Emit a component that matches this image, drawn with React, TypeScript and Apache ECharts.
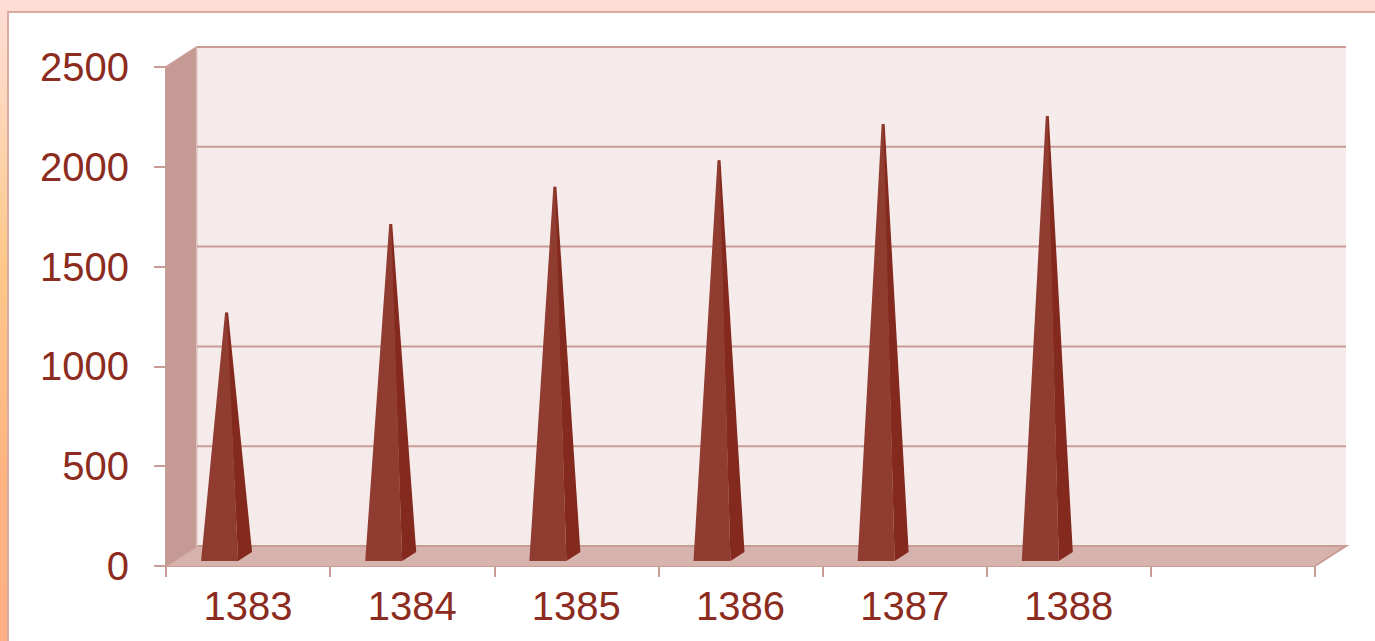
import React, { useEffect, useRef } from "react";
import * as echarts from "echarts";

const categories = ["1383", "1384", "1385", "1386", "1387", "1388", ""];
const values = [1245, 1688, 1875, 2008, 2190, 2230];
const gridValues = [500, 1000, 1500, 2000, 2500];

const DEPTH_X = 31;
const DEPTH_Y = 20;
const TEXT = "#8c2b20";
const LINE = "#c99c95";

function wallsItem(params: any, api: any) {
  const c = params.coordSys;
  const x0 = c.x, x1 = c.x + c.width, yT = c.y, yB = c.y + c.height;
  const line = { stroke: LINE, lineWidth: 2 };
  const shape = (points: number[][]) => ({ points });
  return {
    type: "group",
    children: [
      { type: "polygon", shape: shape([[x0 + DEPTH_X, yT - DEPTH_Y], [x1 + DEPTH_X, yT - DEPTH_Y], [x1 + DEPTH_X, yB - DEPTH_Y], [x0 + DEPTH_X, yB - DEPTH_Y]]), style: { fill: "#f5ebea" } },
      { type: "polygon", shape: shape([[x0, yB], [x0, yT], [x0 + DEPTH_X, yT - DEPTH_Y], [x0 + DEPTH_X, yB - DEPTH_Y]]), style: { fill: "#c69a94" } },
      { type: "polygon", shape: shape([[x0, yB], [x0 + DEPTH_X, yB - DEPTH_Y], [x1 + DEPTH_X, yB - DEPTH_Y], [x1, yB]]), style: { fill: "#d7b3ad" } },
      { type: "polyline", shape: shape([[x0, yT], [x0 + DEPTH_X, yT - DEPTH_Y], [x1 + DEPTH_X, yT - DEPTH_Y]]), style: { ...line, fill: "none" } },
      { type: "polyline", shape: shape([[x0, yB], [x0 + DEPTH_X, yB - DEPTH_Y], [x1 + DEPTH_X, yB - DEPTH_Y], [x1, yB]]), style: { ...line, fill: "none" } },
      { type: "line", shape: { x1: x0 + DEPTH_X, y1: yT - DEPTH_Y, x2: x0 + DEPTH_X, y2: yB - DEPTH_Y }, style: { stroke: "#e3cdc9", lineWidth: 1.5 } },
    ],
  };
}

function gridItem(params: any, api: any) {
  const c = params.coordSys;
  const y = api.coord([0, api.value(0)])[1] - DEPTH_Y;
  return {
    type: "line",
    shape: { x1: c.x + DEPTH_X, y1: y, x2: c.x + c.width + DEPTH_X, y2: y },
    style: { stroke: LINE, lineWidth: 2 },
  };
}

function pyramidItem(params: any, api: any) {
  const [cx, yBase] = api.coord([api.value(0), 0]);
  const apexY = api.coord([api.value(0), api.value(1)])[1] - 5;
  const apexX = cx - 22;
  const frontY = yBase - 5;
  const backY = yBase - 14;
  return {
    type: "group",
    children: [
      {
        type: "polygon",
        shape: { points: [[cx - 10, frontY], [cx + 4, backY], [apexX + 2, apexY], [apexX, apexY]] },
        style: { fill: "#84291d" },
      },
      {
        type: "polygon",
        shape: { points: [[cx - 47, frontY], [cx - 10, frontY], [apexX + 1, apexY], [apexX - 1, apexY]] },
        style: { fill: "#903c31" },
      },
    ],
  };
}

export default function App() {
  const ref = useRef<HTMLDivElement>(null);
  useEffect(() => {
    const chart = echarts.init(ref.current!, null, { renderer: "svg" });
    chart.setOption({
      animation: false,
      grid: { left: 166, right: 60, top: 67, bottom: 75, containLabel: false },
      tooltip: { show: false },
      xAxis: {
        type: "category",
        data: categories,
        boundaryGap: true,
        axisLine: { show: true, lineStyle: { color: LINE, width: 2 } },
        axisTick: { show: true, length: 11, alignWithLabel: false, lineStyle: { color: LINE, width: 2 } },
        axisLabel: { color: TEXT, fontFamily: "Liberation Sans", fontSize: 40, margin: 20, interval: 0 },
      },
      yAxis: {
        type: "value",
        min: 0,
        max: 2500,
        interval: 500,
        splitLine: { show: false },
        axisLine: { show: true, lineStyle: { color: LINE, width: 2 } },
        axisTick: { show: true, length: 12, lineStyle: { color: LINE, width: 2 } },
        axisLabel: { color: TEXT, fontFamily: "Liberation Sans", fontSize: 40, margin: 37, formatter: (v: number) => String(v) },
      },
      series: [
        { type: "custom", z: 1, clip: false, silent: true, data: [[0]], renderItem: wallsItem },
        { type: "custom", z: 2, clip: false, silent: true, data: gridValues.map((v) => [v]), encode: { y: 0 }, renderItem: gridItem },
        { type: "custom", z: 3, clip: false, silent: true, data: values.map((v, i) => [i, v]), encode: { x: 0, y: 1 }, renderItem: pyramidItem },
      ],
    });
    return () => chart.dispose();
  }, []);
  return (
    <div style={{ position: "absolute", left: 0, top: 0, width: 1375, height: 641, overflow: "hidden", background: "linear-gradient(180deg, #fddcd3 0%, #fdd9c4 12%, #fec98a 40%, #feb381 75%, #ffb085 100%)" }}>
      <div style={{ position: "absolute", left: 0, top: 0, width: 1375, height: 11, background: "#fddcd3" }} />
      <div style={{ position: "absolute", left: 7, top: 11, width: 1368, height: 630, background: "#ffffff", borderLeft: "2px solid #d8aaa0", borderTop: "2px solid #d8aaa0", boxSizing: "border-box" }} />
      <div ref={ref} style={{ position: "absolute", left: 0, top: 0, width: 1375, height: 641 }} />
    </div>
  );
}
